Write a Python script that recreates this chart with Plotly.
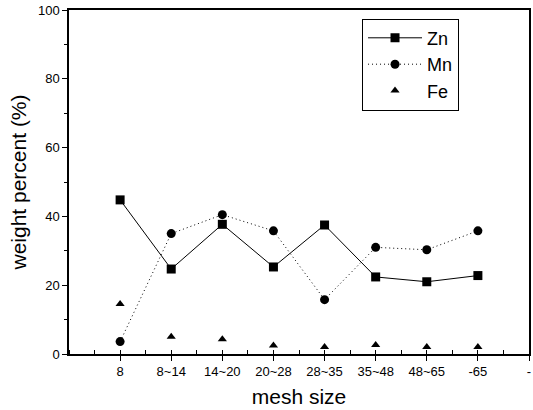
import plotly.graph_objects as go

categories = ["8", "8~14", "14~20", "20~28", "28~35", "35~48", "48~65", "-65"]
extra_tick = "-"
zn = [44.8, 24.7, 37.7, 25.3, 37.5, 22.4, 21.0, 22.8]
mn = [3.6, 35.0, 40.5, 35.8, 15.8, 31.0, 30.3, 35.8]
fe = [14.5, 5.0, 4.3, 2.5, 2.0, 2.6, 2.0, 2.0]

x = list(range(len(categories)))
font = "Liberation Sans, Arial, sans-serif"

fig = go.Figure()
fig.add_trace(go.Scatter(x=x, y=zn, name="Zn", mode="lines+markers",
                         line=dict(color="black", width=1),
                         marker=dict(symbol="square", size=9, color="black")))
fig.add_trace(go.Scatter(x=x, y=mn, name="Mn", mode="lines+markers",
                         line=dict(color="black", width=1, dash="1px,3px"),
                         marker=dict(symbol="circle", size=9, color="black")))
fig.add_trace(go.Scatter(x=x, y=fe, name="Fe", mode="markers",
                         marker=dict(symbol="triangle-up", size=8, color="black")))

fig.update_layout(
    width=533, height=410,
    margin=dict(l=69, r=2, t=10, b=56),
    paper_bgcolor="white", plot_bgcolor="white",
    font=dict(family=font, color="black"),
    showlegend=True,
    legend=dict(x=0.637, y=0.975, xanchor="left", yanchor="top",
                bordercolor="black", borderwidth=1, bgcolor="white",
                font=dict(size=18), itemwidth=54, tracegroupgap=0),
)
fig.update_xaxes(
    range=[-1, 8], tickmode="array", tickvals=x + [len(categories)],
    ticktext=categories + [extra_tick],
    ticks="outside", ticklen=5, tickcolor="black",
    minor=dict(ticks="inside", ticklen=4, tickcolor="black", dtick=0.5, tick0=-0.5, showgrid=False),
    showline=True, linecolor="black", linewidth=1.5, mirror=True,
    showgrid=False, zeroline=False,
    tickfont=dict(size=13, family=font),
    title=dict(text="mesh size", font=dict(size=21), standoff=11),
)
fig.update_yaxes(
    range=[0, 100], tickvals=[0, 20, 40, 60, 80, 100],
    ticks="outside", ticklen=5, tickcolor="black",
    minor=dict(ticks="outside", ticklen=3, tickcolor="black", dtick=10, showgrid=False),
    showline=True, linecolor="black", linewidth=1.5, mirror=True,
    showgrid=False, zeroline=False,
    tickfont=dict(size=13, family=font),
    title=dict(text="weight percent (%)", font=dict(size=21), standoff=6),
)

fig.write_html("out.html")
